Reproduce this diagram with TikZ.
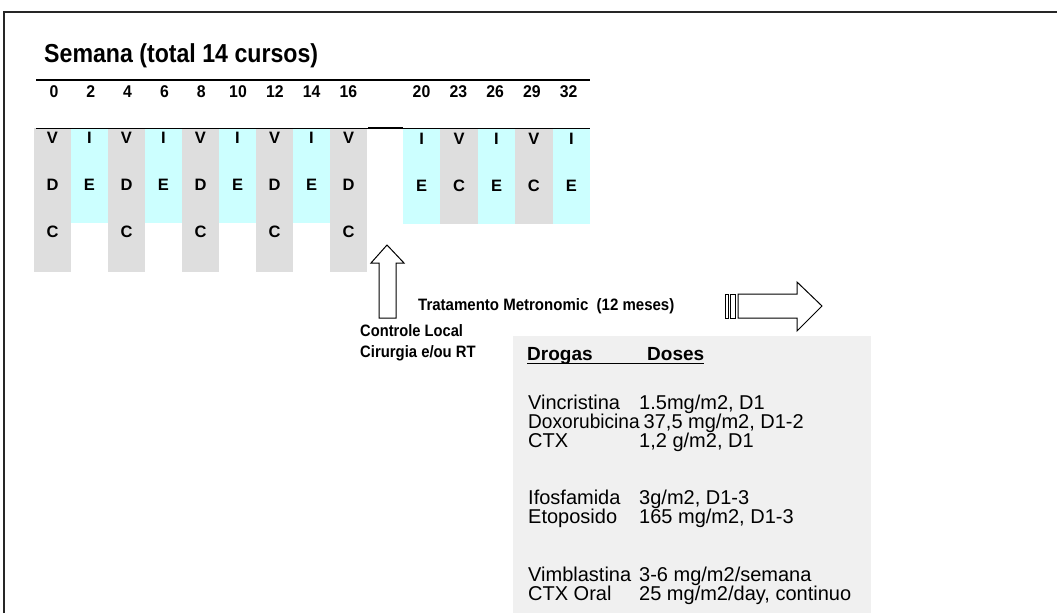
\documentclass[tikz,border=0pt]{standalone}
\usepackage{fontspec}
\setmainfont{Liberation Sans}
\usepackage{graphicx}
\newcommand{\cnd}[2][0.88]{\scalebox{#1}[1]{#2}}
\definecolor{colgray}{HTML}{DEDEDE}
\definecolor{colcyan}{HTML}{CCFFFF}
\definecolor{boxgray}{HTML}{F0F0F0}
\tikzset{
  numlbl/.style={inner sep=0pt, anchor=base, font=\bfseries\fontsize{17}{17}\selectfont},
  letlbl/.style={inner sep=0pt, anchor=base, font=\bfseries\fontsize{16.5}{16.5}\selectfont},
  lbl/.style={inner sep=0pt, anchor=base west, font=\bfseries\fontsize{16.5}{16.5}\selectfont},
  body/.style={inner sep=0pt, anchor=base west, font=\fontsize{20}{20}\selectfont},
  head/.style={inner sep=0pt, anchor=base west, font=\bfseries\fontsize{19}{19}\selectfont},
  arrowshape/.style={draw=black, line width=1pt, fill=white, line join=miter}
}
\begin{document}
\begin{tikzpicture}[x=1pt,y=-1pt]
\useasboundingbox (0,0) rectangle (1057,613);
\fill[white] (0,0) rectangle (1057,613);
% frame
\draw[line width=2pt, black!85] (4,613) -- (4,12) -- (1057,12);
% title
\node[inner sep=0pt, anchor=base west, font=\bfseries\fontsize{26}{26}\selectfont] (title) at (44,62) {\cnd[0.89]{Semana (total 14 cursos)}};
% columns left
\foreach \i [evaluate=\i as \xa using 34+37*\i] in {0,...,8}{
  \ifodd\i
    \fill[colcyan] (\xa,128) rectangle ++(37,95);
  \else
    \fill[colgray] (\xa,128) rectangle ++(37,144);
  \fi
}
% columns right
\foreach \i [evaluate=\i as \xa using 403+37.4*\i] in {0,...,4}{
  \ifodd\i
    \fill[colgray] (\xa,128) rectangle ++(37.4,96);
  \else
    \fill[colcyan] (\xa,128) rectangle ++(37.4,96);
  \fi
}
% header lines
\draw[line width=1.6pt] (36,80) -- (590,80);
\draw[line width=1pt] (36,128) -- (590,128);
\draw[line width=1.8pt] (368,128) -- (403,128);
% week numbers
\foreach \w [count=\k from 0, evaluate=\k as \xc using 54+36.8*\k] in {0,2,4,6,8,10,12,14,16}{
  \node[numlbl] (w\w) at (\xc,97) {\cnd[0.93]{\w}};
}
\foreach \w [count=\k from 0, evaluate=\k as \xc using 421.5+36.8*\k] in {20,23,26,29,32}{
  \node[numlbl] (w\w) at (\xc,97) {\cnd[0.93]{\w}};
}
% letters left
\foreach \i [evaluate=\i as \xc using 52.5+37*\i] in {0,...,8}{
  \ifodd\i
    \node[letlbl] (a\i) at (\xc,143.5) {I};
    \node[letlbl] (b\i) at (\xc,190.5) {E};
  \else
    \node[letlbl] (a\i) at (\xc,143.5) {V};
    \node[letlbl] (b\i) at (\xc,190.5) {D};
    \node[letlbl] (c\i) at (\xc,237.5) {C};
  \fi
}
% letters right
\foreach \i [evaluate=\i as \xc using 421.7+37.4*\i] in {0,...,4}{
  \ifodd\i
    \node[letlbl] (ra\i) at (\xc,144) {V};
    \node[letlbl] (rb\i) at (\xc,191) {C};
  \else
    \node[letlbl] (ra\i) at (\xc,144) {I};
    \node[letlbl] (rb\i) at (\xc,191) {E};
  \fi
}
% up arrow (local control)
\draw[arrowshape] (379,318) -- (379,263) -- (371,263) -- (387,245) -- (404,263) -- (396,263) -- (396,318) -- cycle;
% striped right arrow
\draw[arrowshape] (738,294) -- (797,294) -- (797,282) -- (822,306) -- (797,331) -- (797,318) -- (738,318) -- cycle;
\draw[arrowshape] (725,294) rectangle (728.5,318);
\draw[arrowshape] (730.5,294) rectangle (735.5,318);
% labels
\node[lbl] (trat) at (418,310) {\cnd[0.91]{Tratamento Metronomic\ \ (12 meses)}};
\node[lbl] (ctrl) at (360,336.5) {\cnd[0.89]{Controle Local}};
\node[lbl] (cir) at (360,357) {\cnd[0.9]{Cirurgia e/ou RT}};
% drug box
\fill[boxgray] (513,336) rectangle (871,613);
\node[head] (drogas) at (527,360.5) {Drogas};
\node[head] (doses) at (647,360.5) {Doses};
\draw[line width=1.3pt] (527,363.8) -- (704,363.8);
\node[body] (d1) at (528,409) {Vincristina};
\node[body] (v1) at (639,409) {1.5mg/m2, D1};
\node[body] (d2) at (528,428.2) {\cnd[0.955]{Doxorubicina}};
\node[body] (v2) at (643.5,428.2) {37,5 mg/m2, D1-2};
\node[body] (d3) at (528,447.3) {CTX};
\node[body] (v3) at (639,447.3) {1,2 g/m2, D1};
\node[body] (d4) at (528,504.8) {Ifosfamida};
\node[body] (v4) at (639,504.8) {3g/m2, D1-3};
\node[body] (d5) at (528,523.9) {Etoposido};
\node[body] (v5) at (639,523.9) {165 mg/m2, D1-3};
\node[body] (d6) at (528,581.4) {Vimblastina};
\node[body] (v6) at (639,581.4) {3-6 mg/m2/semana};
\node[body] (d7) at (528,600.5) {CTX Oral};
\node[body] (v7) at (639,600.5) {25 mg/m2/day, continuo};
\end{tikzpicture}
\end{document}
